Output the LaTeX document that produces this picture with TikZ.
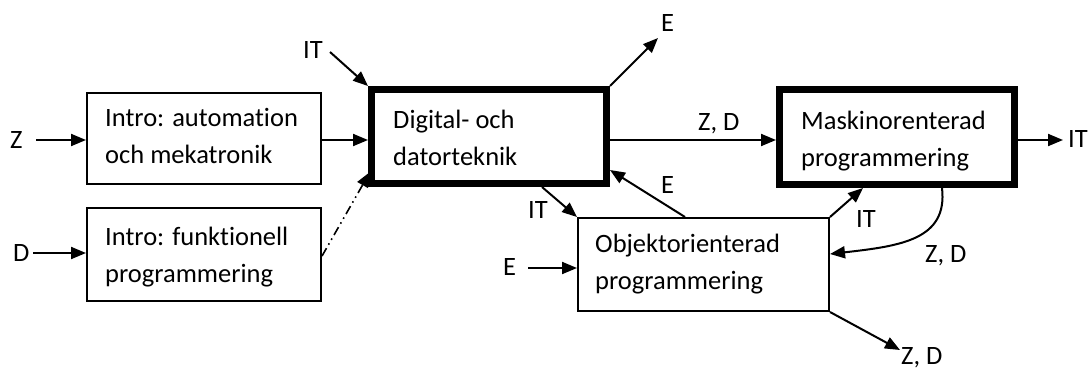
\documentclass[tikz,border=0pt]{standalone}
\usepackage{fontspec}
\setmainfont{Carlito}[Ligatures={NoCommon}]
\usetikzlibrary{arrows.meta,calc}
\begin{document}
\begin{tikzpicture}[x=1pt,y=-1pt,
  every node/.style={font=\fontsize{26.5}{37}\selectfont},
  thinbox/.style={draw,line width=2pt,inner sep=0pt,outer sep=1pt,minimum width=#1},
  thickbox/.style={draw,line width=7pt,inner sep=0pt,outer sep=3.5pt,minimum width=235pt},
  boxtext/.style={anchor=base west,inner sep=0pt},
  lbl/.style={anchor=base west,inner sep=0pt},
  arr/.style={line width=2pt,-{Triangle[length=15pt,width=12pt]}},
]
\useasboundingbox (0,0) rectangle (1091,370);
% boxes
\node[thinbox=234pt,minimum height=91pt] (a) at (204,138.5) {};
\node[thinbox=234pt,minimum height=93pt] (b) at (204,254.5) {};
\node[thickbox,minimum height=94pt] (c) at (489,136.5) {};
\node[thickbox,minimum height=95pt] (d) at (897,137) {};
\node[thinbox=251pt,minimum height=93pt] (e) at (703.5,264.5) {};
% box texts
\node[boxtext] (at) at (105,126) {\begin{tabular}[t]{@{}l@{}}Intro: automation\\och mekatronik\end{tabular}};
\node[boxtext] (bt) at (105,245) {\begin{tabular}[t]{@{}l@{}}Intro: funktionell\\programmering\end{tabular}};
\node[boxtext] (ct) at (393,128) {\begin{tabular}[t]{@{}l@{}}Digital- och\\datorteknik\end{tabular}};
\node[boxtext] (dt) at (801,129) {\begin{tabular}[t]{@{}l@{}}Maskinorenterad\\programmering\end{tabular}};
\node[boxtext] (et) at (595,252) {\begin{tabular}[t]{@{}l@{}}Objektorienterad\\programmering\end{tabular}};
% labels
\node[lbl] (lz) at (10,148) {Z};
\node[lbl] (ld) at (13,261) {D};
\node[lbl] (lit1) at (303,58) {IT};
\node[lbl] (le1) at (661,31) {E};
\node[lbl] (lzd1) at (698,130) {Z, D};
\node[lbl] (lit2) at (1068,147) {IT};
\node[lbl] (lit3) at (528,218) {IT};
\node[lbl] (le2) at (661,193) {E};
\node[lbl] (le3) at (503,275) {E};
\node[lbl] (lit4) at (856,227) {IT};
\node[lbl] (lzd2) at (925,262) {Z, D};
\node[lbl] (lzd3) at (901,364) {Z, D};
% free ends
\coordinate (zs) at (36,140);
\coordinate (ds) at (33,253);
\coordinate (its) at (330,52);
\coordinate (ee) at (658,38);
\coordinate (ite) at (1063,140);
\coordinate (es) at (528,268);
\coordinate (zde) at (900,350);
% connectors
\draw[arr] (zs) -- (zs -| a.west);
\draw[arr] (ds) -- (ds -| b.west);
\draw[arr] (a.east |- 0,140) -- (c.west |- 0,140);
\draw[line width=1.6pt,dash pattern=on 9pt off 4pt on 1.6pt off 4pt on 1.6pt off 4pt,-{Triangle[length=15pt,width=12pt]}] (b.east |- 0,256) -- (370,172);
\draw[arr] (its) -- (c.north west);
\draw[arr] (c.north east) -- (ee);
\draw[arr] (c.east |- 0,140) -- (d.west |- 0,140);
\draw[arr] (d.east |- 0,140) -- (ite);
\draw[arr] (c.south -| 542,0) -- (e.north west);
\draw[arr] (e.north -| 685,0) -- (c.east |- 0,170);
\draw[arr] (es) -- (es -| e.west);
\draw[arr] (e.north east) -- (d.south -| 863,0);
\draw[arr] (d.south -| 942,0) .. controls (948,240) and (900,246) .. (e.east |- 0,254);
\draw[arr] (e.south east) -- (zde);
\end{tikzpicture}
\end{document}
